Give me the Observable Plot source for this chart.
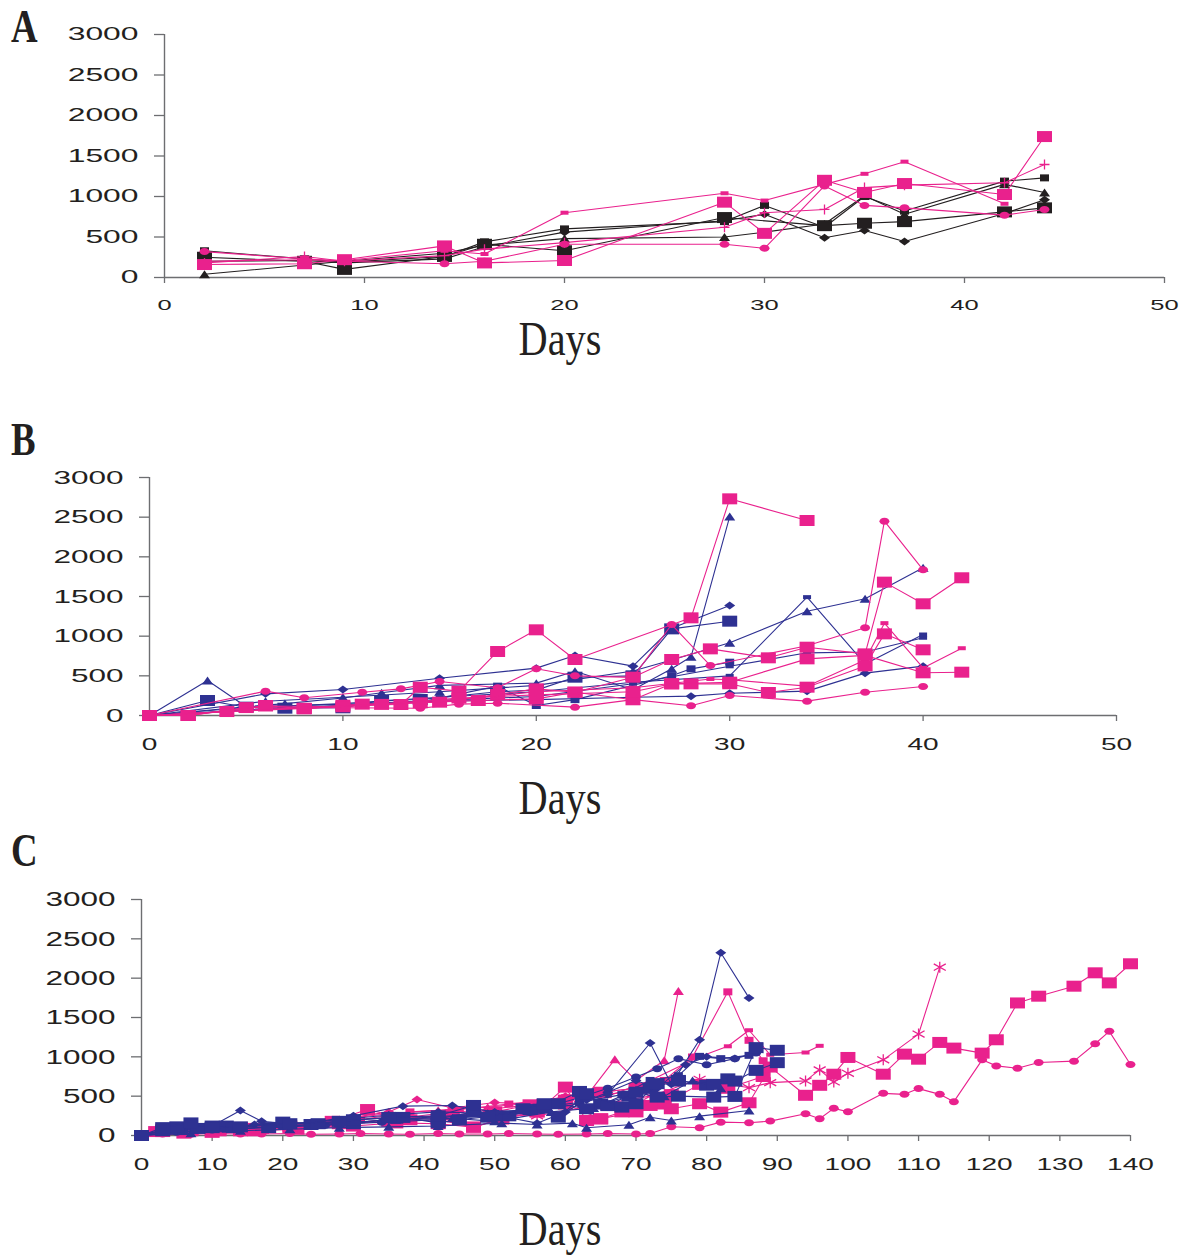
<!DOCTYPE html>
<html><head><meta charset="utf-8">
<script src="https://cdn.jsdelivr.net/npm/d3@7"></script>
<script src="https://cdn.jsdelivr.net/npm/@observablehq/plot@0.6"></script>
<style>
body{margin:0;background:#fff;}
#wrap{position:relative;width:1187px;height:1259px;overflow:hidden;background:#fff;}
#wrap svg.panel{position:absolute;left:0;}
#overlay{position:absolute;left:0;top:0;pointer-events:none;}
</style></head><body><div id="wrap"></div>
<script>
// ---------------- DATA (day, value) ----------------
// Panel A
const A_xticks = [0,10,20,30,40,50];
const A_k_sq  = [[2,330],[7,230],[9,190],[14,260],[16,440],[20,600],[28,690],[30,890],[33,620],[35,1000],[37,820],[42,1190],[44,1230]];
const A_k_big = [[2,250],[7,200],[9,100],[14,260],[16,410],[20,330],[28,740],[33,640],[35,670],[37,690],[42,810],[44,860]];
const A_k_tri = [[2,40],[9,200],[14,300],[16,400],[20,480],[28,500],[30,560],[33,660],[35,1010],[37,780],[42,1150],[44,1050]];
const A_k_dia = [[2,200],[7,210],[9,180],[14,230],[16,380],[20,560],[28,700],[30,780],[33,490],[35,580],[37,445],[42,790],[44,960]];
const A_p_dash = [[2,200],[7,220],[9,210],[14,330],[16,290],[20,800],[28,1040],[30,950],[33,1150],[35,1280],[37,1430],[42,910]];
const A_p_big = [[2,160],[7,170],[9,220],[14,390],[16,180],[20,210],[28,930],[30,545],[33,1200],[35,1050],[37,1160],[42,1025],[44,1740]];
const A_p_circ = [[2,320],[7,230],[9,200],[14,170],[16,200],[20,410],[28,410],[30,360],[33,1130],[35,890],[37,860],[42,770],[44,840]];
const A_p_plus = [[2,180],[7,260],[9,200],[14,270],[16,350],[20,430],[28,620],[30,800],[33,840],[35,1110],[37,1140],[42,1170],[44,1395]];

// Panel B
const B_xticks = [0,10,20,30,40,50];
const B_b_tri1 = [[0,0],[3,441],[5,110],[7,150],[10,220],[12,286],[15,380],[20,408],[22,559],[25,324],[27,590],[28,740],[30,2508]];
const B_b_tri2 = [[0,0],[6,180],[10,230],[15,300],[20,380],[25,560],[27,700],[30,916],[34,1315],[37,1471],[40,1862]];
const B_b_dia1 = [[0,0],[6,273],[10,328],[15,470],[20,597],[22,756],[25,622],[27,1100],[30,1387]];
const B_b_big  = [[0,0],[3,189],[5,105],[7,92],[10,97],[12,189],[14,202],[18,300],[20,320],[22,483],[25,500],[27,1092],[30,1189]];
const B_b_dash1 = [[0,0],[5,100],[10,150],[15,230],[20,300],[25,420],[30,500],[34,1492],[37,650],[40,1021]];
const B_b_sq   = [[0,0],[7,100],[10,120],[14,170],[18,370],[20,126],[22,200],[27,500],[28,588],[30,672]];
const B_b_dia2 = [[0,0],[5,110],[10,140],[15,180],[20,200],[25,230],[28,244],[30,280],[34,307],[37,534],[40,622]];
const B_b_dash2 = [[0,0],[8,100],[12,160],[16,200],[20,240],[25,400],[30,620],[34,790],[37,800],[40,980]];
const B_p_big1 = [[0,0],[2,0],[6,126],[8,84],[10,130],[13,139],[14,357],[16,307],[18,807],[20,1080],[22,706],[28,1231],[30,2731],[34,2458]];
const B_p_big2 = [[0,0],[2,0],[5,100],[8,90],[11,143],[15,168],[18,265],[20,336],[22,294],[25,483],[27,706],[29,840],[32,727],[34,861],[37,777],[38,1681],[40,1408],[42,1736]];
const B_p_circ1 = [[0,0],[6,307],[8,223],[11,294],[13,336],[15,428],[18,350],[20,590],[22,500],[25,480],[27,1147],[29,630],[34,880],[37,1105],[38,2450],[40,1836]];
const B_p_big3 = [[0,0],[2,0],[6,120],[10,110],[14,160],[17,189],[20,210],[22,294],[25,198],[27,399],[28,399],[30,400],[32,290],[34,357],[37,625],[38,1029],[40,828]];
const B_p_big4 = [[0,0],[4,50],[8,90],[12,140],[16,220],[20,260],[25,300],[27,400],[30,420],[34,714],[37,758],[40,538],[42,546]];
const B_p_circ2 = [[0,0],[8,100],[14,92],[16,143],[18,155],[22,105],[25,200],[28,122],[30,252],[34,181],[37,294],[40,365]];
const B_p_dash = [[0,0],[10,120],[16,200],[20,300],[25,350],[29,460],[30,450],[34,370],[37,700],[38,1164],[40,600],[42,848]];

// Panel C
const C_xticks = [0,10,20,30,40,50,60,70,80,90,100,110,120,130,140];
const C_b_dia1 = [[0,0],[4,80],[7,100],[10,120],[14,318],[17,180],[21,150],[28,200],[35,260],[42,300],[49,280],[56,157],[60,300],[63,450],[66,520],[72,1176],[75,650],[79,1217],[82,2323],[86,1749]];
const C_b_dia2 = [[0,0],[5,60],[10,90],[16,140],[24,160],[30,250],[37,373],[44,382],[50,300],[56,320],[62,400],[66,550],[70,700],[73,600],[77,900],[80,1000],[84,980]];
const C_b_big1 = [[0,0],[3,100],[7,160],[10,100],[14,110],[21,150],[28,180],[35,230],[42,250],[47,382],[49,233],[54,340],[57,404],[59,233],[63,531],[68,361],[70,404],[73,659],[76,692],[81,650],[84,692],[87,828],[90,926]];
const C_b_big2 = [[0,0],[3,60],[5,110],[10,120],[13,100],[20,170],[25,150],[30,200],[37,230],[42,160],[45,200],[50,250],[55,330],[59,404],[63,340],[66,380],[70,550],[73,488],[76,500],[81,488],[84,497],[87,1117],[90,1083]];
const C_b_big3 = [[0,0],[4,80],[8,90],[12,120],[18,100],[24,140],[30,150],[36,220],[42,210],[47,300],[52,250],[57,350],[62,560],[65,400],[69,500],[72,600],[76,700],[80,640],[83,720]];
const C_b_sq   = [[0,0],[6,50],[12,80],[20,120],[28,150],[35,200],[42,240],[50,280],[56,360],[62,420],[68,520],[72,700],[76,760],[79,1006],[82,977],[86,1019]];
const C_b_circ = [[0,0],[5,40],[10,70],[18,100],[26,130],[34,170],[42,200],[50,260],[56,330],[62,480],[66,600],[70,743],[73,850],[76,977],[80,900],[84,977],[87,1050]];
const C_b_tri1 = [[0,0],[7,30],[14,60],[21,80],[28,100],[35,110],[42,120],[51,157],[56,140],[61,157],[63,98],[69,136],[72,233],[75,191],[79,246],[86,318]];
const C_b_tri2 = [[0,0],[4,100],[8,90],[14,120],[20,140],[28,160],[36,200],[44,220],[50,180],[58,300],[64,350],[70,580],[74,500],[78,700],[82,600]];
const C_p_sqL = [[0,0],[3,50],[7,60],[10,80],[14,60],[17,90],[21,100],[28,150],[35,180],[42,200],[47,106],[51,212],[56,300],[60,400],[65,212],[68,300],[72,382],[75,340],[79,404],[82,297],[86,416],[89,870],[94,511],[96,638],[98,779],[100,992],[105,779],[108,1034],[110,970],[113,1183],[115,1111],[119,1047],[121,1217],[124,1685],[127,1771],[132,1898],[135,2068],[137,1940],[140,2183]];
const C_p_circL = [[0,10],[3,20],[7,15],[10,25],[14,20],[17,20],[21,25],[24,15],[28,20],[31,25],[35,20],[38,15],[42,25],[45,20],[49,20],[52,25],[56,20],[59,15],[63,20],[66,25],[70,20],[72,25],[75,111],[79,98],[82,170],[86,162],[89,183],[94,277],[96,213],[98,345],[100,302],[105,536],[108,523],[110,596],[113,523],[115,430],[119,962],[121,885],[124,855],[127,928],[132,945],[135,1166],[137,1324],[140,902]];
const C_p_ast = [[0,0],[7,40],[14,80],[21,100],[28,150],[35,200],[42,250],[49,280],[56,250],[65,396],[72,500],[79,715],[86,608],[89,672],[94,694],[96,834],[98,681],[100,791],[105,962],[110,1289],[113,2140]];
const C_p_dash = [[0,0],[7,50],[14,80],[21,100],[28,150],[35,200],[42,280],[49,330],[56,400],[63,520],[66,500],[72,700],[79,1000],[83,1134],[86,1338],[89,1026],[94,1055],[96,1140]];
const C_p_tri = [[0,0],[5,60],[10,80],[15,120],[20,130],[28,200],[35,280],[42,320],[49,360],[56,420],[63,500],[67,968],[70,700],[74,957],[76,1838]];
const C_p_msq = [[0,0],[6,60],[12,90],[18,110],[24,140],[31,200],[38,300],[45,330],[52,400],[60,480],[63,500],[66,560],[70,600],[74,700],[78,998],[83,1826],[86,1210],[88,950]];
const C_p_dia = [[0,0],[5,50],[10,80],[15,110],[20,130],[25,160],[30,230],[35,300],[39,458],[44,350],[50,420],[55,400],[60,500],[65,520],[70,560],[75,700]];
const C_p_big2 = [[0,0],[3,80],[7,70],[11,60],[15,90],[21,120],[27,180],[32,330],[38,200],[44,260],[50,300],[55,390],[60,450],[65,550],[70,600],[75,520]];
const C_p_big3 = [[2,50],[6,30],[10,40],[16,60],[22,80],[30,120],[36,160],[42,150],[47,106],[51,212],[56,300],[60,615],[63,191],[65,212],[70,300],[74,400],[79,650],[83,600],[88,750]];

const Y_TICKS = [0,500,1000,1500,2000,2500,3000];
const panelLetters = ["A","B","C"];
const xAxisTitle = "Days";

// ---------------- STYLES ----------------
const PINK = "#e9218d", BLUE = "#2e3192", BLACK = "#231f20";

function sym(kind, w, h) {
  return {draw(ctx) {
    const a = w / 2, b = h / 2;
    if (kind === "rect") { ctx.rect(-a, -b, w, h); }
    else if (kind === "ell") {
      const k = 0.5523;
      ctx.moveTo(a, 0);
      ctx.bezierCurveTo(a, k * b, k * a, b, 0, b);
      ctx.bezierCurveTo(-k * a, b, -a, k * b, -a, 0);
      ctx.bezierCurveTo(-a, -k * b, -k * a, -b, 0, -b);
      ctx.bezierCurveTo(k * a, -b, a, -k * b, a, 0);
      ctx.closePath();
    } else if (kind === "tri") {
      ctx.moveTo(0, -b); ctx.lineTo(a, b); ctx.lineTo(-a, b); ctx.closePath();
    } else if (kind === "dia") {
      ctx.moveTo(0, -b); ctx.lineTo(a, 0); ctx.lineTo(0, b); ctx.lineTo(-a, 0); ctx.closePath();
    } else if (kind === "plus") {
      ctx.moveTo(-a, 0); ctx.lineTo(a, 0); ctx.moveTo(0, -b); ctx.lineTo(0, b);
    } else if (kind === "ast") {
      ctx.moveTo(0, -b); ctx.lineTo(0, b);
      ctx.moveTo(-a, -b * 0.6); ctx.lineTo(a, b * 0.6);
      ctx.moveTo(-a, b * 0.6); ctx.lineTo(a, -b * 0.6);
    }
  }};
}
const SHAPES = {
  big:  {s: sym("rect", 15, 11), stroked: false},
  sq:   {s: sym("rect", 9, 7), stroked: false},
  circ: {s: sym("ell", 10, 7), stroked: false},
  tri:  {s: sym("tri", 11, 8), stroked: false},
  dia:  {s: sym("dia", 11, 8), stroked: false},
  dash: {s: sym("rect", 8, 4), stroked: false},
  plus: {s: sym("plus", 10, 10), stroked: true},
  ast:  {s: sym("ast", 12, 11), stroked: true}
};

const panels = [
  {top: 0, mt: 34, mb: 43, ml: 164, mr: 23, xmax: 50, xticks: A_xticks,
   yfs: 18.5, ysx: 1.72, xfs: 15, xsx: 1.7,
   series: [
     [A_k_tri, BLACK, "tri"], [A_k_dia, BLACK, "dia"], [A_k_sq, BLACK, "sq"], [A_k_big, BLACK, "big"],
     [A_p_circ, PINK, "circ"], [A_p_plus, PINK, "plus"], [A_p_dash, PINK, "dash"], [A_p_big, PINK, "big"]
   ]},
  {top: 440, mt: 37, mb: 45, ml: 149, mr: 71, xmax: 50, xticks: B_xticks,
   yfs: 19, ysx: 1.66, xfs: 17, xsx: 1.65,
   series: [
     [B_b_tri1, BLUE, "tri"], [B_b_tri2, BLUE, "tri"], [B_b_dia1, BLUE, "dia"], [B_b_dia2, BLUE, "dia"],
     [B_b_dash1, BLUE, "dash"], [B_b_dash2, BLUE, "dash"], [B_b_sq, BLUE, "sq"], [B_b_big, BLUE, "big"],
     [B_p_circ1, PINK, "circ"], [B_p_circ2, PINK, "circ"], [B_p_dash, PINK, "dash"],
     [B_p_big1, PINK, "big"], [B_p_big2, PINK, "big"], [B_p_big3, PINK, "big"], [B_p_big4, PINK, "big"]
   ]},
  {top: 860, mt: 39, mb: 45, ml: 141, mr: 57, xmax: 140, xticks: C_xticks,
   yfs: 21, ysx: 1.5, xfs: 17, xsx: 1.65,
   series: [
     [C_p_circL, PINK, "circ"], [C_p_ast, PINK, "ast"], [C_p_dash, PINK, "dash"], [C_p_tri, PINK, "tri"],
     [C_p_msq, PINK, "sq"], [C_p_dia, PINK, "dia"], [C_p_big2, PINK, "big"], [C_p_big3, PINK, "big"], [C_p_sqL, PINK, "big"],
     [C_b_tri1, BLUE, "tri"], [C_b_tri2, BLUE, "tri"], [C_b_circ, BLUE, "circ"], [C_b_sq, BLUE, "sq"],
     [C_b_dia2, BLUE, "dia"], [C_b_dia1, BLUE, "dia"], [C_b_big3, BLUE, "big"], [C_b_big2, BLUE, "big"], [C_b_big1, BLUE, "big"]
   ]}
];

const wrap = document.getElementById("wrap");
const H = 320;

for (const p of panels) {
  const marks = [];
  for (const [arr, color, shape] of p.series) {
    const data = arr.map(([d, v]) => ({d, v}));
    const sh = SHAPES[shape];
    marks.push(Plot.line(data, {x: "d", y: "v", stroke: color, strokeWidth: 1.1}));
    marks.push(Plot.dot(data, {x: "d", y: "v", symbol: sh.s, r: 3,
      fill: sh.stroked ? "none" : color, stroke: sh.stroked ? color : "none", strokeWidth: 1.3}));
  }
  const svg = Plot.plot({
    width: 1187, height: H,
    marginTop: p.mt, marginBottom: p.mb, marginLeft: p.ml, marginRight: p.mr,
    x: {domain: [0, p.xmax]},
    y: {domain: [0, 3000]},
    style: {fontFamily: "'Liberation Sans', Arial, sans-serif", background: "transparent", color: BLACK},
    marks: [
      Plot.axisY({ticks: Y_TICKS, tickFormat: d => String(d), tickSize: 10, tickPadding: 16,
        label: null, stroke: "#6d6e71", strokeWidth: 1.3, fill: BLACK}),
      Plot.axisX({ticks: p.xticks, tickFormat: d => String(d), tickSize: 6, tickPadding: 16,
        label: null, stroke: "#6d6e71", strokeWidth: 1.3, fill: BLACK}),
      Plot.ruleX([0], {y1: 0, y2: 3000, stroke: "#6d6e71", strokeWidth: 1.4}),
      Plot.ruleY([0], {x1: 0, x2: p.xmax, stroke: "#6d6e71", strokeWidth: 1.4}),
      ...marks
    ]
  });
  svg.classList.add("panel");
  svg.style.top = p.top + "px";
  svg.style.position = "absolute";
  // stretch tick labels horizontally like the original figure
  const fix = (sel, fs, sx) => {
    svg.querySelectorAll(sel).forEach(g => {
      g.setAttribute("font-size", fs);
      g.querySelectorAll("text").forEach(t => {
        const tr = t.getAttribute("transform") || "";
        t.setAttribute("transform", tr + ` scale(${sx},1)`);
      });
    });
  };
  fix('g[aria-label="y-axis tick label"]', p.yfs, p.ysx);
  fix('g[aria-label="x-axis tick label"]', p.xfs, p.xsx);
  wrap.appendChild(svg);
}

// overlay text (panel letters and axis titles)
const ns = "http://www.w3.org/2000/svg";
const ov = document.createElementNS(ns, "svg");
ov.setAttribute("id", "overlay");
ov.setAttribute("width", 1187); ov.setAttribute("height", 1259);
const addText = (txt, x, y, fs, sx, bold, anchor) => {
  const t = document.createElementNS(ns, "text");
  t.textContent = txt;
  t.setAttribute("transform", `translate(${x},${y}) scale(${sx},1)`);
  t.setAttribute("font-family", "'Liberation Serif', 'Times New Roman', serif");
  t.setAttribute("font-size", fs);
  if (bold) t.setAttribute("font-weight", "bold");
  t.setAttribute("text-anchor", anchor);
  t.setAttribute("fill", BLACK);
  ov.appendChild(t);
};
const letterY = [42, 455, 866];
const titleY = [355, 814, 1245];
panelLetters.forEach((L, i) => addText(L, 11, letterY[i], 46, 0.8, true, "start"));
titleY.forEach(y => addText(xAxisTitle, 560, y, 48, 0.84, false, "middle"));
wrap.appendChild(ov);
</script></body></html>
